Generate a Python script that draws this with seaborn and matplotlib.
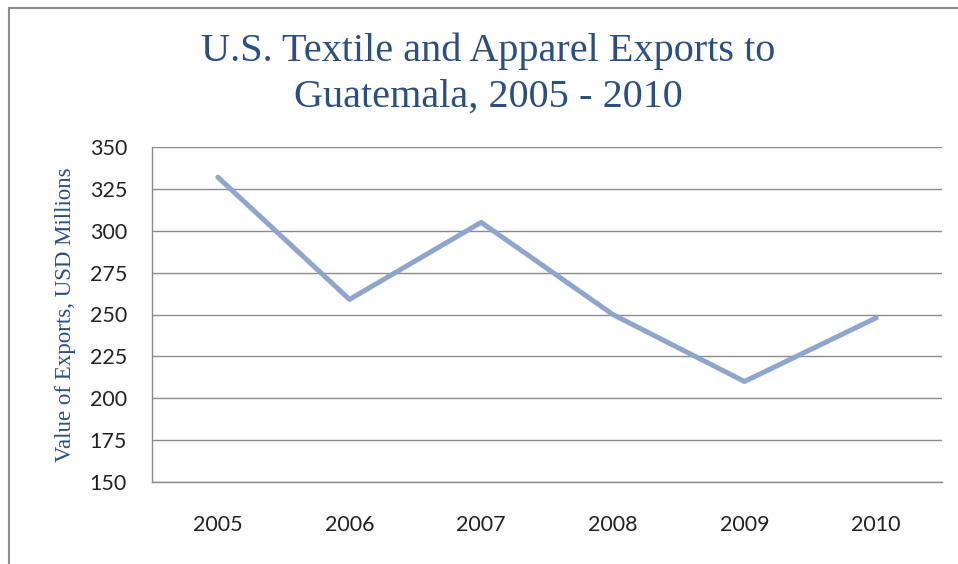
import seaborn as sns
import matplotlib.pyplot as plt
from matplotlib.patches import Rectangle

# data
years = [2005, 2006, 2007, 2008, 2009, 2010]
exports = [332, 259, 305, 250, 210, 248]
y_ticks = [150, 175, 200, 225, 250, 275, 300, 325, 350]

sns.set_style("white")
plt.rcParams['font.family'] = ['Lato', 'DejaVu Sans']

fig = plt.figure(figsize=(9.58, 5.64), dpi=100)
ax = fig.add_axes([152 / 958, 1 - 482 / 564, 790 / 958, 335 / 564])

# outer frame of the chart area
fig.patches.append(Rectangle((9 / 958, -0.1), 1.2, 1 - 8 / 564 + 0.1,
                             transform=fig.transFigure, fill=False,
                             edgecolor='#8c8c8c', linewidth=1.5))

sns.lineplot(x=years, y=exports, ax=ax, color='#8ea6cd', linewidth=3.6)

ax.set_xlim(2004.5, 2010.5)
ax.set_ylim(150, 350)
ax.set_yticks(y_ticks)
ax.set_xticks(years)
ax.yaxis.grid(True, color='#8c8c8c', linewidth=1)
ax.set_axisbelow(True)
for side in ['top', 'right']:
    ax.spines[side].set_visible(False)
for side in ['left', 'bottom']:
    ax.spines[side].set_color('#8c8c8c')
    ax.spines[side].set_linewidth(1)
ax.tick_params(axis='both', length=0, labelsize=15.5, labelcolor='#222222')
ax.tick_params(axis='x', pad=24)
ax.tick_params(axis='y', pad=18)

ax.set_ylabel('Value of Exports, USD Millions', family='Liberation Serif',
              fontsize=16.5, color='#2a4f82', labelpad=10)
fig.text(488 / 958, 1 - 74 / 564, 'U.S. Textile and Apparel Exports to\nGuatemala, 2005 - 2010',
         ha='center', va='center', family='Liberation Serif', fontsize=29,
         color='#2a4f82', linespacing=1.32)

fig.savefig('out.png', dpi=100)
